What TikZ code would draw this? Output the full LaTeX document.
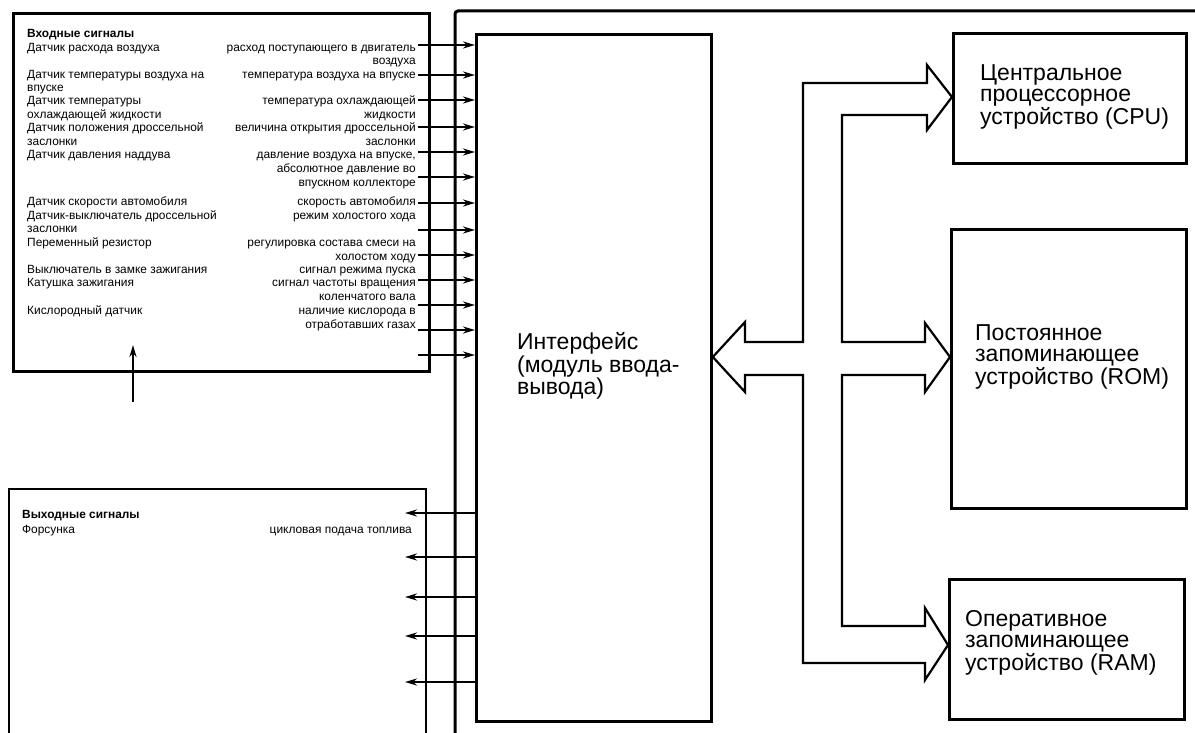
\documentclass[tikz,border=0pt]{standalone}
\usepackage{fontspec}
\setmainfont{Liberation Sans}
\usetikzlibrary{arrows.meta}
\begin{document}
\begin{tikzpicture}[x=1pt,y=-1pt,
  box/.style={draw, line width=2.8pt, inner sep=0pt, anchor=north west},
  small/.style={font=\fontsize{11.9}{13}\selectfont, inner sep=0pt, text height=8.5pt, text depth=2.5pt},
  lt/.style={small, anchor=west},
  rt/.style={small, anchor=east},
  hd/.style={lt, font=\fontsize{11.9}{13}\selectfont\bfseries},
  big/.style={font=\fontsize{23}{21}\selectfont, align=left, inner sep=0pt, anchor=west},
  sig/.style={line width=2.3pt, -{Stealth[length=12pt,width=7pt]}},
  bus/.style={line width=2.2pt, line join=miter}
]
\useasboundingbox (0,0) rectangle (1195,733);
\fill[white] (0,0) rectangle (1195,733);

% boxes
\node[box, minimum width=416pt, minimum height=358pt] (inbox) at (12,12) {};
\node[box, minimum width=235pt, minimum height=687pt] (iface) at (475,33) {};
\node[box, minimum width=233pt, minimum height=130pt] (cpu) at (952,32) {};
\node[box, minimum width=235pt, minimum height=279pt] (rom) at (950,228) {};
\node[box, minimum width=235pt, minimum height=140pt] (ram) at (948,578) {};

% output box (open at the bottom)
\coordinate (ob1) at (9,733);
\coordinate (ob2) at (426,733);
\draw[line width=2.8pt] (ob1) -- (9,489) -- (426,489) -- (ob2);

% main vertical line and top line
\draw[line width=3pt, rounded corners=3pt] (455,733) -- (455,11) -- (1195,11);

% input signal arrows
\foreach \y in {45,75,100,127,152,177,203,230,255,280,305,330,355}
  \draw[sig] (418,\y) -- (iface.west |- 0,\y);

% output signal arrows
\foreach \y in {513,557,597,636,682}
  \draw[sig] (iface.west |- 0,\y) -- (405,\y);

% vertical arrow below input box
\coordinate (va1) at (133,402);
\coordinate (va2) at (133,345);
\draw[sig] (va1) -- (va2);

% bus
\draw[bus] (927,83) -- (803,83) -- (803,342) -- (745,342) -- (745,322)
  -- (iface.east |- 0,357) -- (745,392) -- (745,375) -- (803,375)
  -- (803,663) -- (925,663) -- (925,680) -- (ram.west |- 0,645)
  -- (925,608) -- (925,626) -- (842,626) -- (842,375) -- (925,375)
  -- (925,392) -- (rom.west |- 0,357) -- (925,323) -- (925,342)
  -- (842,342) -- (842,115) -- (927,115) -- (927,130)
  -- (cpu.west |- 0,97) -- (927,65) -- cycle;

% big labels
\node[big] (tiface) at (517,366) {Интерфейс\\(модуль ввода-\\вывода)};
\node[big] (tcpu) at (980,97) {Центральное\\процессорное\\устройство (CPU)};
\node[big] (trom) at (975,357) {Постоянное\\запоминающее\\устройство (ROM)};
\node[big] (tram) at (965,643) {Оперативное\\запоминающее\\устройство (RAM)};

% input texts, left column
\node[hd] (l0) at (27,35) {Входные сигналы};
\node[lt] (l1) at (27,49) {Датчик расхода воздуха};
\node[lt] (l2) at (27,76) {Датчик температуры воздуха на};
\node[lt] (l3) at (27,89) {впуске};
\node[lt] (l4) at (27,102) {Датчик температуры};
\node[lt] (l5) at (27,116) {охлаждающей жидкости};
\node[lt] (l6) at (27,129) {Датчик положения дроссельной};
\node[lt] (l7) at (27,143) {заслонки};
\node[lt] (l8) at (27,156) {Датчик давления наддува};
\node[lt] (l9) at (27,203) {Датчик скорости автомобиля};
\node[lt] (l10) at (27,216) {Датчик-выключатель дроссельной};
\node[lt] (l11) at (27,230) {заслонки};
\node[lt] (l12) at (27,243) {Переменный резистор};
\node[lt] (l13) at (27,270) {Выключатель в замке зажигания};
\node[lt] (l14) at (27,283) {Катушка зажигания};
\node[lt] (l15) at (27,311) {Кислородный датчик};

% input texts, right column
\node[rt] (r1) at (416,49) {расход поступающего в двигатель};
\node[rt] (r2) at (416,62) {воздуха};
\node[rt] (r3) at (416,76) {температура воздуха на впуске};
\node[rt] (r4) at (416,102) {температура охлаждающей};
\node[rt] (r5) at (416,116) {жидкости};
\node[rt] (r6) at (416,129) {величина открытия дроссельной};
\node[rt] (r7) at (416,143) {заслонки};
\node[rt] (r8) at (416,156) {давление воздуха на впуске,};
\node[rt] (r9) at (416,170) {абсолютное давление во};
\node[rt] (r10) at (416,184) {впускном коллекторе};
\node[rt] (r11) at (416,203) {скорость автомобиля};
\node[rt] (r12) at (416,216) {режим холостого хода};
\node[rt] (r13) at (416,243) {регулировка состава смеси на};
\node[rt] (r14) at (416,257) {холостом ходу};
\node[rt] (r15) at (416,270) {сигнал режима пуска};
\node[rt] (r16) at (416,283) {сигнал частоты вращения};
\node[rt] (r17) at (416,297) {коленчатого вала};
\node[rt] (r18) at (416,311) {наличие кислорода в};
\node[rt] (r19) at (416,325) {отработавших газах};

% output texts
\node[hd] (o0) at (22,515) {Выходные сигналы};
\node[lt] (o1) at (22,530) {Форсунка};
\node[rt] (o2) at (412,530) {цикловая подача топлива};
\end{tikzpicture}
\end{document}
